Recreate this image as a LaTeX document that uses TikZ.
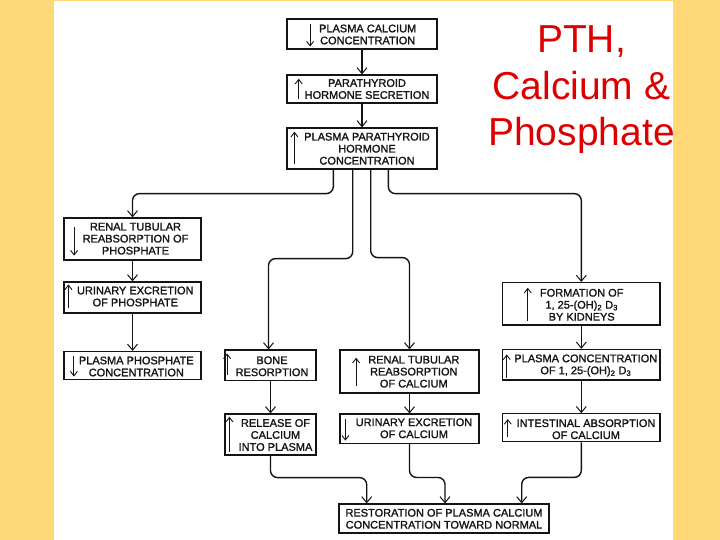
\documentclass[tikz,border=0pt]{standalone}
\usepackage{fontspec}
\setmainfont{Liberation Sans}
\newfontfamily\boxfont{Liberation Sans}[RawFeature={embolden=1.4}]
\usetikzlibrary{arrows.meta,calc}
\definecolor{bgyellow}{RGB}{255,217,120}
\definecolor{ink}{RGB}{20,20,20}
\definecolor{titlered}{RGB}{222,0,0}
\begin{document}
\begin{tikzpicture}[x=1pt,y=-1pt,
  box/.style={draw=ink, line width=1.2pt, inner sep=0pt, rectangle},
  lbl/.style={text=ink, font=\boxfont\fontsize{11}{12}\selectfont, align=center, inner sep=0pt},
  conn/.style={draw=ink, line width=1.4pt, rounded corners=7pt, -{Straight Barb[length=6pt,width=10pt,line width=1pt]}},
  ind/.style={draw=ink, line width=0.9pt, -{Straight Barb[length=4.5pt,width=7pt,line width=0.9pt]}},
]
\fill[bgyellow] (0,0) rectangle (720,540);
\fill[white] (54,1) rectangle (672.7,540);
\useasboundingbox (0,0) rectangle (720,540);

% title
\node[anchor=north, inner sep=0pt, align=center, text=titlered,
  font=\fontsize{39}{46.7}\selectfont] (title) at (581.5,25.4) {PTH,\\Calcium \&\\Phosphate};

% boxes
\node[box, minimum width=150pt, minimum height=30pt] (b1) at (362,34) {};
\node[lbl] (t1) at (367.7,34.5) {PLASMA CALCIUM\\CONCENTRATION};
\node[box, minimum width=150pt, minimum height=28pt] (b2) at (362,89) {};
\node[lbl] (t2) at (367,89) {PARATHYROID\\HORMONE SECRETION};
\node[box, minimum width=150pt, minimum height=41pt] (b3) at (362,148.5) {};
\node[lbl] (t3) at (367,148.7) {PLASMA PARATHYROID\\HORMONE\\CONCENTRATION};

\node[box, minimum width=137pt, minimum height=42pt] (b4) at (132.5,239) {};
\node[lbl] (t4) at (135.5,238.7) {RENAL TUBULAR\\REABSORPTION OF\\PHOSPHATE};
\node[box, minimum width=137pt, minimum height=31pt] (b5) at (132.5,297.5) {};
\node[lbl] (t5) at (135.3,296.5) {URINARY EXCRETION\\OF PHOSPHATE};
\node[box, minimum width=137pt, minimum height=28pt] (b6) at (132.5,365.5) {};
\node[lbl] (t6) at (136.3,366.5) {PLASMA PHOSPHATE\\CONCENTRATION};

\node[box, minimum width=91pt, minimum height=30.5pt] (b7) at (270.5,365.3) {};
\node[lbl] (t7) at (272,366.3) {BONE\\RESORPTION};
\node[box, minimum width=139pt, minimum height=43pt] (b8) at (409.5,371.5) {};
\node[lbl] (t8) at (413.8,371.7) {RENAL TUBULAR\\REABSORPTION\\OF CALCIUM};
\node[box, minimum width=157.5pt, minimum height=42.5pt] (b9) at (581.3,303.8) {};
\node[lbl] (t9) at (581.7,304.8) {FORMATION OF\\1, 25-(OH)\textsubscript{2} D\textsubscript{3}\\BY KIDNEYS};
\node[box, minimum width=157.5pt, minimum height=30.7pt] (b10) at (581.3,364.7) {};
\node[lbl] (t10) at (585.8,365.5) {PLASMA CONCENTRATION\\OF 1, 25-(OH)\textsubscript{2} D\textsubscript{3}};

\node[box, minimum width=91pt, minimum height=41pt] (b11) at (270.5,434.5) {};
\node[lbl] (t11) at (275.5,435) {RELEASE OF\\CALCIUM\\INTO PLASMA};
\node[box, minimum width=139pt, minimum height=29.3pt] (b12) at (409.5,428.7) {};
\node[lbl] (t12) at (414,428.3) {URINARY EXCRETION\\OF CALCIUM};
\node[box, minimum width=157.5pt, minimum height=28pt] (b13) at (581.3,427.8) {};
\node[lbl] (t13) at (586,429.2) {INTESTINAL ABSORPTION\\OF CALCIUM};

\node[box, minimum width=210pt, minimum height=29pt] (b14) at (444,518.5) {};
\node[lbl] (t14) at (444,518.8) {RESTORATION OF PLASMA CALCIUM\\CONCENTRATION TOWARD NORMAL};

% indicator arrows inside boxes
\draw[ind] ($(b1.north west)+(23.7,6)$) -- ($(b1.south west)+(23.7,-3)$);
\draw[ind] ($(b2.south west)+(12.3,-4.7)$) -- ($(b2.north west)+(12.3,4.3)$);
\draw[ind] ($(b3.south west)+(8,-5.7)$) -- ($(b3.north west)+(8,4.3)$);
\draw[ind] ($(b4.north west)+(10.7,9.3)$) -- ($(b4.south west)+(10.7,-5)$);
\draw[ind] ($(b5.south west)+(5,-5.7)$) -- ($(b5.north west)+(5,3)$);
\draw[ind] ($(b6.north west)+(10.5,5)$) -- ($(b6.south west)+(10.5,-3.5)$);
\draw[ind] ($(b7.south west)+(2.7,-6.5)$) -- ($(b7.north west)+(2.7,4)$);
\draw[ind] ($(b8.south west)+(16.7,-8)$) -- ($(b8.north west)+(16.7,8.3)$);
\draw[ind] ($(b9.south west)+(25.8,-5)$) -- ($(b9.north west)+(25.8,5.8)$);
\draw[ind] ($(b10.south west)+(4.8,-2.7)$) -- ($(b10.north west)+(4.8,5.7)$);
\draw[ind] ($(b11.south west)+(5,-4)$) -- ($(b11.north west)+(5,3.3)$);
\draw[ind] ($(b12.north west)+(6,6)$) -- ($(b12.south west)+(6,-3.3)$);
\draw[ind] ($(b13.south west)+(5.8,-5.3)$) -- ($(b13.north west)+(5.8,5.8)$);

% connectors
\draw[conn] (b1.south) -- (b2.north);
\draw[conn] (b2.south) -- (b3.north);
\draw[conn] ([xshift=-28.7pt]b3.south) -- ++(0,24) -| (b4.north);
\draw[conn] ([xshift=-9.3pt]b3.south) -- ++(0,89) -| ([xshift=-2pt]b7.north);
\draw[conn] ([xshift=8.7pt]b3.south) -- ++(0,88) -| (b8.north);
\draw[conn] ([xshift=26.3pt]b3.south) -- ++(0,24) -| (b9.north);
\draw[conn] (b4.south) -- (b5.north);
\draw[conn] (b5.south) -- (b6.north);
\draw[conn] (b7.south) -- (b11.north);
\draw[conn] (b8.south) -- (b12.north);
\draw[conn] (b9.south) -- (b10.north);
\draw[conn] (b10.south) -- (b13.north);
\draw[conn] (b11.south) -- ++(0,22) -| ([xshift=-77.3pt]b14.north);
\draw[conn] (b12.south) -- ++(0,33.5) -| ([xshift=1pt]b14.north);
\draw[conn] (b13.south) -- ++(0,35) -| ([xshift=77.7pt]b14.north);
\end{tikzpicture}
\end{document}
